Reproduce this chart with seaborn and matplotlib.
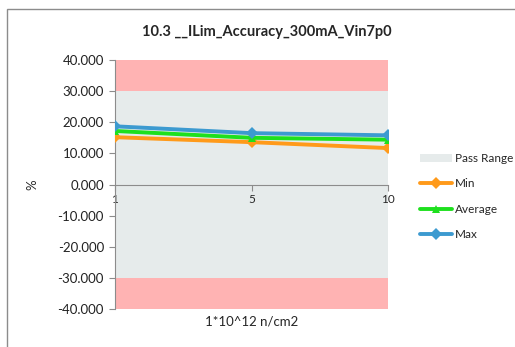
import seaborn as sns
import numpy as np
import matplotlib.pyplot as plt
import pandas as pd
import matplotlib

# fluence categories (1*10^12 n/cm2)
fluence = ['1', '5', '10']
min_vals = [15.2, 13.6, 11.7]
avg_vals = [17.2, 15.0, 14.4]
max_vals = [18.7, 16.5, 15.8]

# limits
pass_lo, pass_hi = -30, 30
axis_lo, axis_hi = -40, 40
y_ticks = [40, 30, 20, 10, 0, -10, -20, -30, -40]

sns.set_style("white")
plt.rcParams['font.family'] = ['Lato', 'DejaVu Sans']

df = pd.DataFrame({
    'Fluence': fluence * 3,
    'Value': min_vals + avg_vals + max_vals,
    'Series': ['Min'] * 3 + ['Average'] * 3 + ['Max'] * 3,
})

fig = plt.figure(figsize=(5.15, 3.47), dpi=100)
ax = fig.add_axes([115 / 515, 1 - 309 / 347, (388 - 115) / 515, (309 - 60) / 347])

# outer chart border
fig.patches.append(matplotlib.patches.Rectangle((7 / 515, -0.1), 1.2, 1 - 9 / 347 + 0.1,
                                                transform=fig.transFigure, fill=False,
                                                edgecolor='#8c8c8c', linewidth=1))

# bands
ax.axhspan(pass_hi, axis_hi, color='#ffb3b3', lw=0, zorder=0)
ax.axhspan(axis_lo, pass_lo, color='#ffb3b3', lw=0, zorder=0)
ax.axhspan(pass_lo, pass_hi, color='#e6ebeb', lw=0, zorder=0, label='Pass Range')

pal = {'Min': '#ff9a1a', 'Average': '#1ee01e', 'Max': '#3c9ad0'}
marks = {'Min': 'D', 'Average': '^', 'Max': 'D'}
sns.lineplot(data=df, x='Fluence', y='Value', hue='Series', style='Series',
             markers=marks, dashes=False, palette=pal, sort=False,
             linewidth=2.8, markersize=6, markeredgewidth=0, ax=ax, zorder=3)

ax.set_xlim(0, 2)
ax.set_ylim(axis_lo, axis_hi)
ax.set_yticks(y_ticks)
ax.set_yticklabels(['%.3f' % v for v in y_ticks], fontsize=9.5, color='#222222')
ax.tick_params(axis='y', direction='out', length=4, color='#8c8c8c', left=True, pad=4)
ax.tick_params(axis='x', direction='out', length=4, color='#8c8c8c', bottom=True,
               labelsize=8.5, pad=3)

for s in ['top', 'right']:
    ax.spines[s].set_visible(False)
ax.spines['left'].set_color('#8c8c8c')
ax.spines['bottom'].set_color('#8c8c8c')
ax.spines['bottom'].set_position(('data', 0))
ax.spines['bottom'].set_zorder(2)

ax.set_ylabel('%', fontsize=9.5, labelpad=14)
ax.set_xlabel('')
fig.text(252 / 515, 1 - 322 / 347, '1*10^12 n/cm2', ha='center', va='center', fontsize=9.5)
fig.text(267 / 515, 1 - 32 / 347, '10.3 __ILim_Accuracy_300mA_Vin7p0', ha='center',
         va='center', fontsize=10.5, fontweight='bold')

handles, labels = ax.get_legend_handles_labels()
order = ['Pass Range', 'Min', 'Average', 'Max']
hl = dict(zip(labels, handles))
leg = ax.legend([hl[k] for k in order], order, loc='center left',
                bbox_to_anchor=((420 - 115) / 273, 0.452), frameon=False, fontsize=8.5,
                handlelength=2.7, handleheight=0.6, labelspacing=1.2, handletextpad=0.25,
                borderpad=0, borderaxespad=0)

plt.savefig('out.png', dpi=100)
